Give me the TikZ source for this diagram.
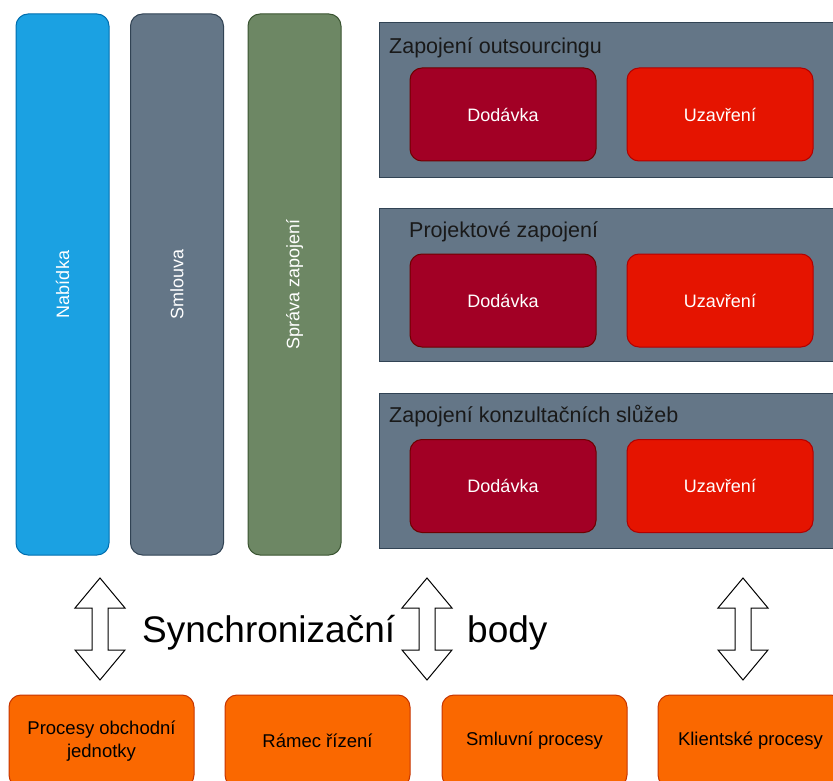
\documentclass[tikz,border=0pt]{standalone}
\usepackage{fontspec}
\setmainfont{Liberation Sans}

\definecolor{blueFill}{HTML}{1BA1E2}
\definecolor{blueLine}{HTML}{006EAF}
\definecolor{slateFill}{HTML}{647687}
\definecolor{slateLine}{HTML}{314354}
\definecolor{greenFill}{HTML}{6D8764}
\definecolor{greenLine}{HTML}{3A5431}
\definecolor{wineFill}{HTML}{A20025}
\definecolor{wineLine}{HTML}{6F0000}
\definecolor{redFill}{HTML}{E51400}
\definecolor{redLine}{HTML}{B20000}
\definecolor{orangeFill}{HTML}{FA6800}
\definecolor{orangeLine}{HTML}{C73500}

\tikzset{
  pillar/.style={draw, rounded corners=12pt, line width=1pt, rotate=90,
    minimum width=541pt, minimum height=93pt, inner sep=0pt,
    text=white, font=\fontsize{18}{21}\selectfont},
  lane/.style={draw=slateLine, fill=slateFill, line width=1pt, anchor=north west,
    minimum width=480pt, inner sep=0pt},
  lanetitle/.style={anchor=west, inner sep=0pt, text=black!90,
    font=\fontsize{21.5}{25}\selectfont},
  stage/.style={draw, rounded corners=12pt, line width=1pt,
    minimum width=186pt, minimum height=93pt, inner sep=0pt,
    text=white, font=\fontsize{18}{21}\selectfont},
  procbox/.style={draw=orangeLine, fill=orangeFill, rounded corners=12pt, line width=1pt,
    minimum width=185pt, minimum height=92pt, inner sep=0pt, align=center,
    text=black, font=\fontsize{18.5}{23}\selectfont},
  syncarrow/.style={draw=black, fill=white, line width=1pt, line join=miter},
  bigtext/.style={inner sep=0pt, font=\fontsize{37}{44}\selectfont},
  % outline of a vertical two-headed block arrow centred on the origin
  pics/twohead/.style={code={
    \path[syncarrow] (0,-51) -- (25,-21) -- (8,-21) -- (8,21) -- (25,21)
      -- (0,51) -- (-25,21) -- (-8,21) -- (-8,-21) -- (-25,-21) -- cycle;
    \coordinate (-top) at (0,-51);
    \coordinate (-bottom) at (0,51);
  }}
}

\begin{document}
\begin{tikzpicture}[x=1pt, y=-1pt]
  \useasboundingbox (0,0) rectangle (833,781);
  \clip (0,0) rectangle (833,781);
  \fill[white] (0,0) rectangle (833,781);

  % vertical phase pillars
  \node[pillar, draw=blueLine, fill=blueFill] (nabidka) at (62.5,284.5) {Nabídka};
  \node[pillar, draw=slateLine, fill=slateFill] (smlouva) at (177,284.5) {Smlouva};
  \node[pillar, draw=greenLine, fill=greenFill] (sprava) at (294.5,284.5) {Správa zapojení};

  % engagement lanes
  \node[lane, minimum height=155pt] (lane1) at (379,22) {};
  \node[lane, minimum height=153pt] (lane2) at (379,208) {};
  \node[lane, minimum height=155pt] (lane3) at (379,393) {};

  \node[lanetitle] (t1) at (389,47.5) {Zapojení outsourcingu};
  \node[lanetitle] (t2) at (409,231.5) {Projektové zapojení};
  \node[lanetitle] (t3) at (389,416.5) {Zapojení konzultačních slůžeb};

  % delivery / closing stages
  \node[stage, draw=wineLine, fill=wineFill] (d1) at (503,114.5) {Dodávka};
  \node[stage, draw=redLine, fill=redFill] (u1) at (720,114.5) {Uzavření};
  \node[stage, draw=wineLine, fill=wineFill] (d2) at (503,300.5) {Dodávka};
  \node[stage, draw=redLine, fill=redFill] (u2) at (720,300.5) {Uzavření};
  \node[stage, draw=wineLine, fill=wineFill] (d3) at (503,486) {Dodávka};
  \node[stage, draw=redLine, fill=redFill] (u3) at (720,486) {Uzavření};

  % synchronisation arrows
  \pic (s1) at (100,629) {twohead};
  \pic (s2) at (427,629) {twohead};
  \pic (s3) at (743,629) {twohead};

  \node[bigtext, anchor=west] (sync) at (142,633) {Synchronizační};
  \node[bigtext, anchor=west] (body) at (467,633) {body};

  % supporting processes
  \node[procbox] (p1) at (101.5,741) {Procesy obchodní\\jednotky};
  \node[procbox] (p2) at (317.5,741) {Rámec řízení};
  \node[procbox] (p3) at (534.5,741) {Smluvní procesy};
  \node[procbox] (p4) at (750.5,741) {Klientské procesy};
\end{tikzpicture}
\end{document}
